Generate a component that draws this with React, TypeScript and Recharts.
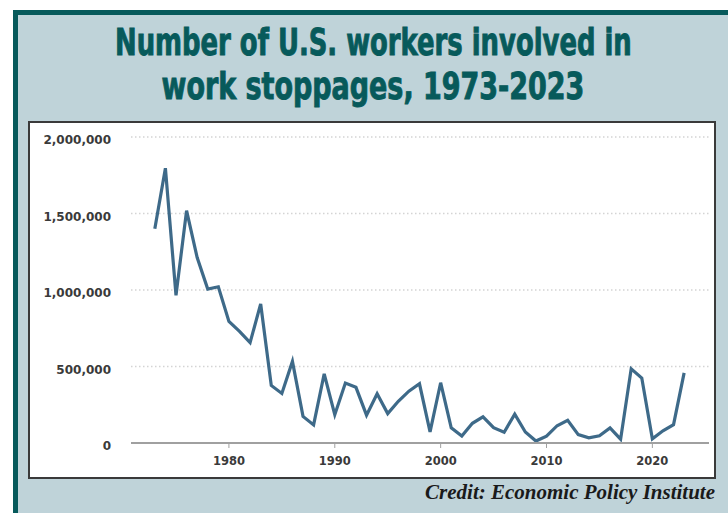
import React, { useLayoutEffect, useRef, useState } from 'react';
import { LineChart, Line, XAxis, YAxis, CartesianGrid } from 'recharts';

// Workers involved in major work stoppages
const years = [
  1973, 1974, 1975, 1976, 1977, 1978, 1979, 1980, 1981, 1982,
  1983, 1984, 1985, 1986, 1987, 1988, 1989, 1990, 1991, 1992,
  1993, 1994, 1995, 1996, 1997, 1998, 1999, 2000, 2001, 2002,
  2003, 2004, 2005, 2006, 2007, 2008, 2009, 2010, 2011, 2012,
  2013, 2014, 2015, 2016, 2017, 2018, 2019, 2020, 2021, 2022, 2023,
];
const workers = [
  1400000, 1796000, 965000, 1519000, 1212000, 1006000, 1021000, 795000, 729000, 656000,
  909000, 376000, 324000, 533000, 174000, 118000, 452000, 185000, 392000, 364000,
  182000, 322000, 192000, 273000, 339000, 387000, 73000, 394000, 99000, 46000,
  129000, 171000, 100000, 70000, 189000, 72000, 13000, 45000, 113000, 148000,
  55000, 34000, 47000, 99000, 25000, 485000, 425000, 27000, 80000, 120000, 458000,
];
const yearTicks = [1980, 1990, 2000, 2010, 2020];
const valueTicks = [0, 500000, 1000000, 1500000, 2000000];

const titleLines = ['Number of U.S. workers involved in', 'work stoppages, 1973-2023'];
const credit = 'Credit: Economic Policy Institute';

const TEAL = '#075a5b';
const PANEL = '#bfd3d9';
const TITLE_FONT = "'Liberation Sans Narrow', 'DejaVu Sans Condensed', Roboto, sans-serif";

const data = years.map((year, i) => ({ year, workers: workers[i] }));

// squeeze a title line to the width it has in the original
const FitText = ({ x, y, width, children }: { x: number; y: number; width: number; children: string }) => {
  const ref = useRef<SVGTextElement>(null);
  const [k, setK] = useState(1);
  useLayoutEffect(() => {
    if (ref.current) {
      const w = ref.current.getComputedTextLength();
      if (w > 0) setK(width / w);
    }
  }, [width]);
  return (
    <text
      ref={ref} x={0} y={0} transform={`translate(${x},${y}) scale(${k},1)`}
      fill={TEAL} stroke={TEAL} strokeWidth={0.9} fontSize={37} fontWeight="bold" fontFamily={TITLE_FONT}
    >
      {children}
    </text>
  );
};

export default function App() {
  return (
    <div style={{ position: 'absolute', left: 0, top: 0, width: 728, height: 513, background: '#fff', overflow: 'hidden' }}>
      {/* outer frame */}
      <div
        style={{
          position: 'absolute', left: 13, top: 10, width: 715, height: 503,
          background: PANEL, borderTop: `5px solid ${TEAL}`, borderLeft: `5px solid ${TEAL}`,
          boxSizing: 'border-box',
        }}
      />
      <svg width={728} height={120} style={{ position: 'absolute', left: 0, top: 0 }}>
        <FitText x={115} y={55} width={517}>{titleLines[0]}</FitText>
        <FitText x={161.5} y={99} width={423}>{titleLines[1]}</FitText>
      </svg>

      {/* white chart box */}
      <div
        style={{
          position: 'absolute', left: 28, top: 121, width: 688, height: 358,
          background: '#fff', border: '2px solid #3a3a3a', boxSizing: 'border-box',
        }}
      />
      <div style={{ position: 'absolute', left: 28, top: 121 }}>
        <LineChart width={688} height={358} data={data} margin={{ top: 16, right: 7, bottom: 5, left: 0 }}>
          <CartesianGrid vertical={false} stroke="#d4d4d4" strokeWidth={1.5} strokeDasharray="1.5 2.5" />
          <XAxis
            dataKey="year" type="number" domain={[1970.75, 2025.35]} ticks={yearTicks}
            height={31} axisLine={{ stroke: '#a0a0a0', strokeWidth: 2 }}
            tickLine={{ stroke: '#a0a0a0' }} tickSize={5} tickMargin={9}
            tick={{ fill: '#3a3a3a', fontSize: 11.5, fontWeight: 'bold', fontFamily: 'DejaVu Sans' }}
          />
          <YAxis
            domain={[0, 2000000]} ticks={valueTicks} width={103}
            axisLine={false} tickLine={false} tickSize={0} tickMargin={20}
            tickFormatter={(v: number) => v.toLocaleString('en-US')}
            tick={{ fill: '#3a3a3a', fontSize: 12, fontWeight: 'bold', fontFamily: 'DejaVu Sans', dy: 3 }}
          />
          <Line
            type="linear" dataKey="workers" stroke="#3e6a89" strokeWidth={3.2}
            dot={false} isAnimationActive={false}
          />
        </LineChart>
      </div>

      <svg width={728} height={513} style={{ position: 'absolute', left: 0, top: 0, pointerEvents: 'none' }}>
        <text
          x={715} y={499} textAnchor="end" fill="#1a1a1a" fontSize={21}
          fontWeight="bold" fontStyle="italic" fontFamily="'Liberation Serif', serif"
        >
          {credit}
        </text>
      </svg>
    </div>
  );
}
